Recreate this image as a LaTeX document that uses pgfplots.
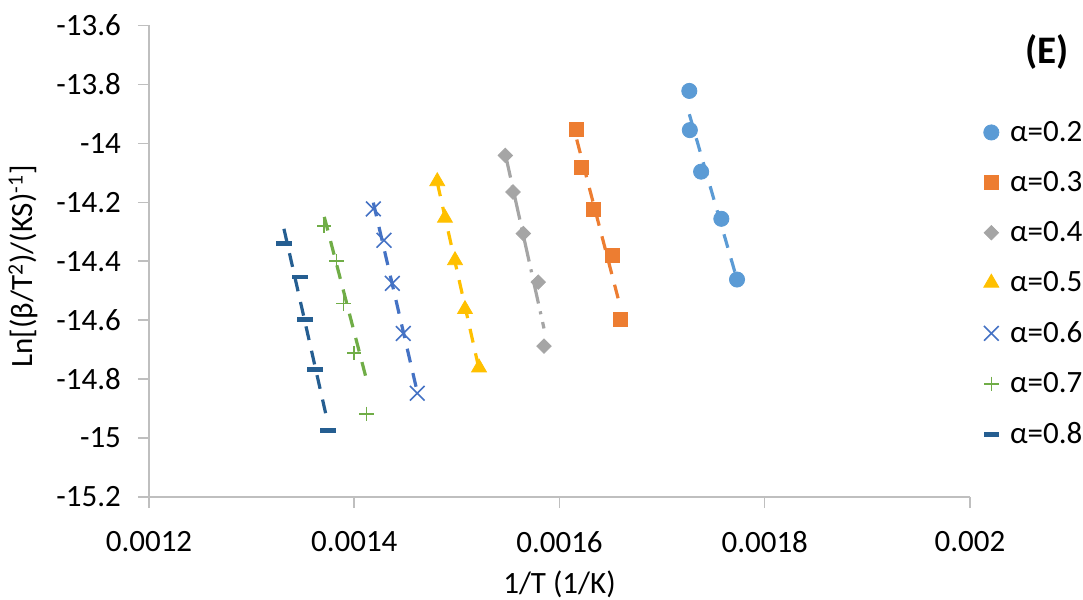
\documentclass[border=0pt]{standalone}
\usepackage{fontspec}
\setmainfont{Carlito}
\usepackage{pgfplots}
\pgfplotsset{compat=1.18}
\definecolor{c1}{HTML}{5B9BD5}
\definecolor{c2}{HTML}{ED7D31}
\definecolor{c3}{HTML}{A5A5A5}
\definecolor{c4}{HTML}{FFC000}
\definecolor{c5}{HTML}{4472C4}
\definecolor{c6}{HTML}{70AD47}
\definecolor{c7}{HTML}{255E91}
\definecolor{axgray}{HTML}{BFBFBF}
\begin{document}
\begin{tikzpicture}
\begin{axis}[
  scale only axis, width=410.5pt, height=235.75pt,
  xmin=0.0012, xmax=0.002, ymin=-15.2, ymax=-13.6,
  axis x line=bottom, axis y line=left,
  axis line style={-, draw=axgray, line width=0.75pt},
  tick align=outside, major tick length=5.5pt,
  tick style={axgray, line width=0.75pt},
  scaled x ticks=false, scaled y ticks=false,
  xtick={0.0012,0.0014,0.0016,0.0018,0.002},
  xticklabels={0.0012,0.0014,0.0016,0.0018,0.002},
  ytick={-15.2,-15,-14.8,-14.6,-14.4,-14.2,-14,-13.8,-13.6},
  yticklabels={-15.2,-15,-14.8,-14.6,-14.4,-14.2,-14,-13.8,-13.6},
  /pgf/number format/assume math mode=true,
  ticklabel style={font=\fontsize{15.5}{18}\selectfont, text=black},
  xticklabel style={yshift=-8pt},
  yticklabel style={xshift=-5pt},
  xlabel={1/T (1/K)},
  ylabel={Ln[(β/T\textsuperscript{2})/(KS)\textsuperscript{-1}]},
  label style={font=\fontsize{15.5}{18}\selectfont},
  xlabel style={at={(axis description cs:0.5,-0.186)}, anchor=center},
  ylabel style={at={(axis description cs:-0.153,0.489)}, anchor=center},
  legend style={draw=none, fill=none, at={(1.016,0.807)}, anchor=north west,
    row sep=9.5pt, font=\fontsize{15.5}{18}\selectfont, inner sep=0pt,
    /tikz/every odd column/.style={column sep=3.5pt}},
  legend cell align=left,
  clip=false,
]
% trendlines
\addplot[c1, line width=1.6pt, dash pattern=on 7pt off 5.5pt, forget plot] coordinates {(0.0017265,-13.901) (0.001773,-14.462)};
\addplot[c2, line width=1.6pt, dash pattern=on 7pt off 5.5pt, forget plot] coordinates {(0.0016168,-13.987) (0.001659,-14.551)};
\addplot[c3, line width=1.6pt, dash pattern=on 12pt off 4pt on 1.5pt off 4pt, forget plot] coordinates {(0.0015472,-14.0365) (0.0015849,-14.628)};
\addplot[c4, line width=1.6pt, dash pattern=on 7pt off 5.5pt, forget plot] coordinates {(0.0014809,-14.1327) (0.0015216,-14.766)};
\addplot[c5, line width=1.6pt, dash pattern=on 7pt off 5.5pt, forget plot] coordinates {(0.0014186,-14.201) (0.0014614,-14.8435)};
\addplot[c6, line width=1.6pt, dash pattern=on 7pt off 5.5pt, forget plot] coordinates {(0.0013708,-14.2495) (0.0014121,-14.8036)};
\addplot[c7, line width=1.6pt, dash pattern=on 7pt off 5.5pt, forget plot] coordinates {(0.0013315,-14.290) (0.0013744,-14.951)};
% data
\addplot[only marks, mark=*, mark size=3.8pt, color=c1, mark options={draw=c1, fill=c1}] coordinates {
(0.0017265,-13.822) (0.001727,-13.955) (0.001738,-14.096) (0.0017577,-14.256) (0.001773,-14.462)};
\addlegendentry{α=0.2}
\addplot[only marks, mark=square*, mark size=3.5pt, color=c2, mark options={draw=c2, fill=c2}] coordinates {
(0.0016168,-13.954) (0.001621,-14.082) (0.0016326,-14.225) (0.0016512,-14.380) (0.001659,-14.596)};
\addlegendentry{α=0.3}
\addplot[only marks, mark=square*, mark size=2.55pt, color=c3, mark options={draw=c3, fill=c3, rotate=45}] coordinates {
(0.0015472,-14.041) (0.0015547,-14.165) (0.0015647,-14.306) (0.0015793,-14.471) (0.0015849,-14.688)};
\addlegendentry{α=0.4}
\addplot[only marks, mark=triangle*, mark size=4.3pt, color=c4, mark options={draw=c4, fill=c4}] coordinates {
(0.0014809,-14.129) (0.0014884,-14.253) (0.0014982,-14.397) (0.0015079,-14.563) (0.0015216,-14.761)};
\addlegendentry{α=0.5}
\addplot[only marks, mark=x, mark size=5.2pt, color=c5, mark options={draw=c5, line width=0.8pt}] coordinates {
(0.0014186,-14.2224) (0.001429,-14.329) (0.0014371,-14.475) (0.0014478,-14.645) (0.0014614,-14.848)};
\addlegendentry{α=0.6}
\addplot[only marks, mark=+, mark size=3.6pt, color=c6, mark options={draw=c6, line width=0.8pt}] coordinates {
(0.0013708,-14.2813) (0.0013829,-14.400) (0.0013897,-14.543) (0.0014,-14.712) (0.0014121,-14.918)};
\addlegendentry{α=0.7}
\addplot[only marks, mark=-, mark size=3.9pt, color=c7, mark options={draw=c7, line width=2.2pt}] coordinates {
(0.0013315,-14.340) (0.0013471,-14.453) (0.001352,-14.598) (0.0013618,-14.768) (0.0013744,-14.974)};
\addlegendentry{α=0.8}
\node[font=\bfseries\fontsize{19.5}{22}\selectfont] at (rel axis cs:1.0938,0.944) {(E)};
\end{axis}
\pgfresetboundingbox
\path (-74.5pt,-51.5pt) rectangle (467pt,248.5pt);
\end{tikzpicture}
\end{document}
